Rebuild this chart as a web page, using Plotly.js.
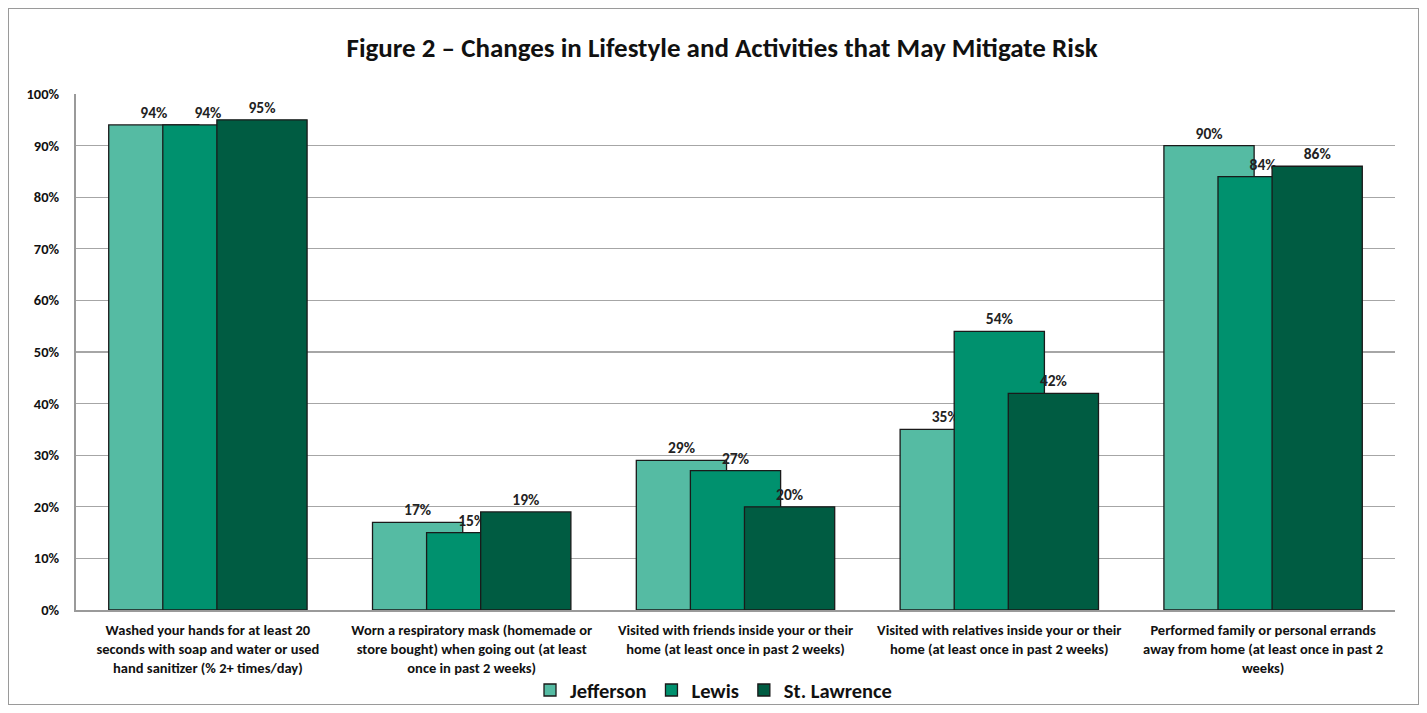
<!DOCTYPE html>
<html>
<head>
<meta charset="utf-8">
<script src="https://cdn.plot.ly/plotly-3.0.1.min.js"></script>
<style>
  html, body { margin: 0; padding: 0; background: #fff; }
  #chart { width: 1427px; height: 713px; }
  #frame { position: absolute; left: 8px; top: 8px; width: 1411px; height: 697px; border: 1px solid #9a9a9a; pointer-events: none; box-sizing: border-box; }
</style>
</head>
<body>
<div id="chart"></div>
<div id="frame"></div>
<script>
const categories = [
  "Washed your hands for at least 20<br>seconds with soap and water or used<br>hand sanitizer (% 2+ times/day)",
  "Worn a respiratory mask (homemade or<br>store bought) when going out (at least<br>once in past 2 weeks)",
  "Visited with friends inside your or their<br>home (at least once in past 2 weeks)",
  "Visited with relatives inside your or their<br>home (at least once in past 2 weeks)",
  "Performed family or personal errands<br>away from home (at least once in past 2<br>weeks)"
];
const jefferson = [94, 17, 29, 35, 90];
const lewis = [94, 15, 27, 54, 84];
const stLawrence = [95, 19, 20, 42, 86];
const seriesNames = ["Jefferson", "Lewis", "St. Lawrence"];
const yTicks = [0, 10, 20, 30, 40, 50, 60, 70, 80, 90, 100];

const FONT = "Carlito, Calibri, Lato, 'Open Sans', sans-serif";
const colors = ["#55BBA3", "#00916E", "#005C42"];
const offsets = [-0.376, -0.171, 0.034];
const barWidth = 0.342;

const series = [jefferson, lewis, stLawrence];
const traces = series.map((vals, i) => ({
  type: "bar",
  name: seriesNames[i],
  x: categories,
  y: vals,
  width: barWidth,
  offset: offsets[i],
  marker: { color: colors[i], line: { color: "#1a1a1a", width: 1.3 } },
  text: vals.map(v => v + "%"),
  textposition: "outside",
  textfont: { family: FONT, size: 15.5, color: "#222", weight: "bold" },
  cliponaxis: false,
  hoverinfo: "skip"
}));

const layout = {
  width: 1427,
  height: 713,
  margin: { l: 76, r: 32, t: 94, b: 103 },
  paper_bgcolor: "#fff",
  plot_bgcolor: "#fff",
  barmode: "overlay",
  font: { family: FONT, color: "#111" },
  title: {
    text: "<b>Figure 2 – Changes in Lifestyle and Activities that May Mitigate Risk</b>",
    font: { family: FONT, size: 27, color: "#111" },
    x: 0.506, xanchor: "center", y: 0.934, yanchor: "middle"
  },
  xaxis: {
    type: "category",
    showgrid: false,
    showline: true, linecolor: "#9a9a9a", linewidth: 2,
    ticks: "",
    tickfont: { family: FONT, size: 14.5, color: "#111", weight: "bold" },
    ticklabelstandoff: 6,
    automargin: false
  },
  yaxis: {
    range: [0, 100],
    tickvals: yTicks,
    ticktext: yTicks.map(v => v + "%"),
    showgrid: true, gridcolor: "#a6a6a6", gridwidth: 1.3,
    showline: true, linecolor: "#9a9a9a", linewidth: 2,
    zeroline: false,
    ticks: "",
    tickfont: { family: FONT, size: 14.5, color: "#111", weight: "bold" },
    ticklabelstandoff: 12,
    automargin: false
  },
  showlegend: true,
  legend: {
    orientation: "h",
    xref: "container", yref: "container",
    x: 0.5, xanchor: "center",
    y: 0.032, yanchor: "middle",
    bgcolor: "rgba(0,0,0,0)",
    font: { family: FONT, size: 20.5, color: "#111", weight: "bold" },
    itemwidth: 20,
    traceorder: "normal"
  }
};

Plotly.newPlot("chart", traces, layout, { displayModeBar: false, staticPlot: true });
</script>
</body>
</html>
